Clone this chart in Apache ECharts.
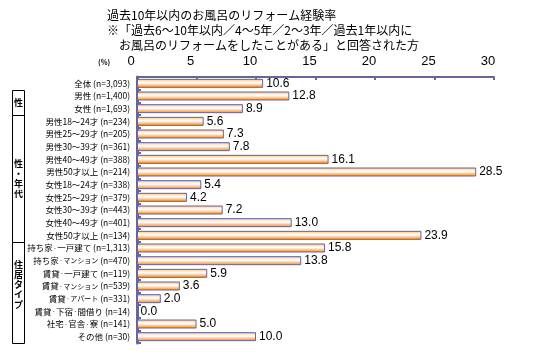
<!DOCTYPE html>
<html><head><meta charset="utf-8">
<script src="https://cdn.jsdelivr.net/npm/echarts@6/dist/echarts.min.js"></script>
<style>html,body{margin:0;padding:0;background:#fff}#c{width:534px;height:358px}</style>
</head><body><div id="c"></div>
<script>
var titleLines = ['過去10年以内のお風呂のリフォーム経験率','※「過去6～10年以内／4～5年／2～3年／過去1年以内に','　お風呂のリフォームをしたことがある」と回答された方'];
var categories = ['全体 (n=3,093)','男性 (n=1,400)','女性 (n=1,693)','男性18～24才 (n=234)','男性25～29才 (n=205)','男性30～39才 (n=361)','男性40～49才 (n=388)','男性50才以上 (n=214)','女性18～24才 (n=338)','女性25～29才 (n=379)','女性30～39才 (n=443)','女性40～49才 (n=401)','女性50才以上 (n=134)','持ち家・一戸建て (n=1,313)','持ち家・マンション (n=470)','賃貸・一戸建て (n=119)','賃貸・マンション (n=539)','賃貸・アパート (n=331)','賃貸・下宿・間借り (n=14)','社宅・官舎・寮 (n=141)','その他 (n=30)'];
var values = [10.6,12.8,8.9,5.6,7.3,7.8,16.1,28.5,5.4,4.2,7.2,13.0,23.9,15.8,13.8,5.9,3.6,2.0,0.0,5.0,10.0];
var groups = [
  {label:'性', from:1, to:2},
  {label:'性\n・\n年\n代', from:3, to:12},
  {label:'住\n居\nタ\nイ\nプ', from:13, to:20}
];
var axisMin = 0, axisMax = 30, axisStep = 5;
var unitLabel = '(%)';

var FONT = '"Noto Sans CJK JP", sans-serif';
function richLabel(s){
  return s.replace(/([\u30A0-\u30FF]+)/g, function(m){
    return m.split('').map(function(ch){ return ch === '・' ? '{d|・}' : '{k|' + ch + '}'; }).join('');
  });
}
var chart = echarts.init(document.getElementById('c'));
var option = {
  animation:false,
  grid:{left:137, top:77, right:40, height:266, containLabel:false},
  xAxis:{type:'value', position:'top', min:axisMin, max:axisMax, interval:axisStep,
    axisLine:{show:true, lineStyle:{color:'#666699', width:2}},
    axisTick:{show:true, inside:true, length:3, lineStyle:{color:'#666699', width:2}},
    splitLine:{show:false},
    axisLabel:{color:'#000', fontSize:13, fontFamily:'Liberation Sans, Arial, sans-serif', margin:9, padding:[0,12,0,0]}
  },
  yAxis:{type:'category', inverse:true, data:categories,
    axisLine:{show:true, lineStyle:{color:'#666699', width:3}},
    axisTick:{show:true, inside:true, length:4, lineStyle:{color:'#666699', width:2}},
    axisLabel:{color:'#000', fontSize:8.5, fontFamily:FONT, margin:7,
      formatter:function(v){ return richLabel(v); },
      rich:{
        k:{fontSize:7, fontFamily:FONT, color:'#000'},
        d:{fontSize:4.5, fontFamily:FONT, color:'#000'}
      }}
  },
  series:[{type:'bar', data:values, barWidth:9,
    itemStyle:{borderColor:'#666699', borderWidth:1,
      color:new echarts.graphic.LinearGradient(0,0,0,1,[
        {offset:0,color:'#ffb060'},{offset:0.25,color:'#ffe8d0'},{offset:0.45,color:'#ffffff'},
        {offset:0.68,color:'#ffc890'},{offset:1,color:'#ff8000'}])},
    label:{show:true, position:'right', distance:3, color:'#000', fontSize:12,
      fontFamily:'Liberation Sans, Arial, sans-serif',
      formatter:function(p){return p.value.toFixed(1);}}
  }]
};
chart.setOption(option);

var graphics = [];
titleLines.forEach(function(t,i){
  graphics.push({type:'text', left:107, top:9+i*15, style:{text:t, font:'12px '+FONT, fill:'#000'}});
});
graphics.push({type:'text', x:98, y:62, style:{text:unitLabel, font:'bold 7px '+FONT, fill:'#000', verticalAlign:'middle'}});
var c0 = chart.convertToPixel({yAxisIndex:0}, 0);
var c1 = chart.convertToPixel({yAxisIndex:0}, 1);
var band = c1 - c0;
groups.forEach(function(g){
  var top = chart.convertToPixel({yAxisIndex:0}, g.from) - band/2;
  var bot = chart.convertToPixel({yAxisIndex:0}, g.to) + band/2;
  graphics.push({type:'rect', shape:{x:12.5, y:Math.round(top)+0.5, width:12, height:Math.round(bot)-Math.round(top)},
    style:{fill:'none', stroke:'#000', lineWidth:1}});
  graphics.push({type:'text', x:18.5, y:(top+bot)/2 - (g.from>10?8:0),
    style:{text:g.label, font:'bold 9px '+FONT, fill:'#000', align:'center', verticalAlign:'middle', lineHeight:10}});
});
chart.setOption({graphic:graphics});
</script>
</body></html>
